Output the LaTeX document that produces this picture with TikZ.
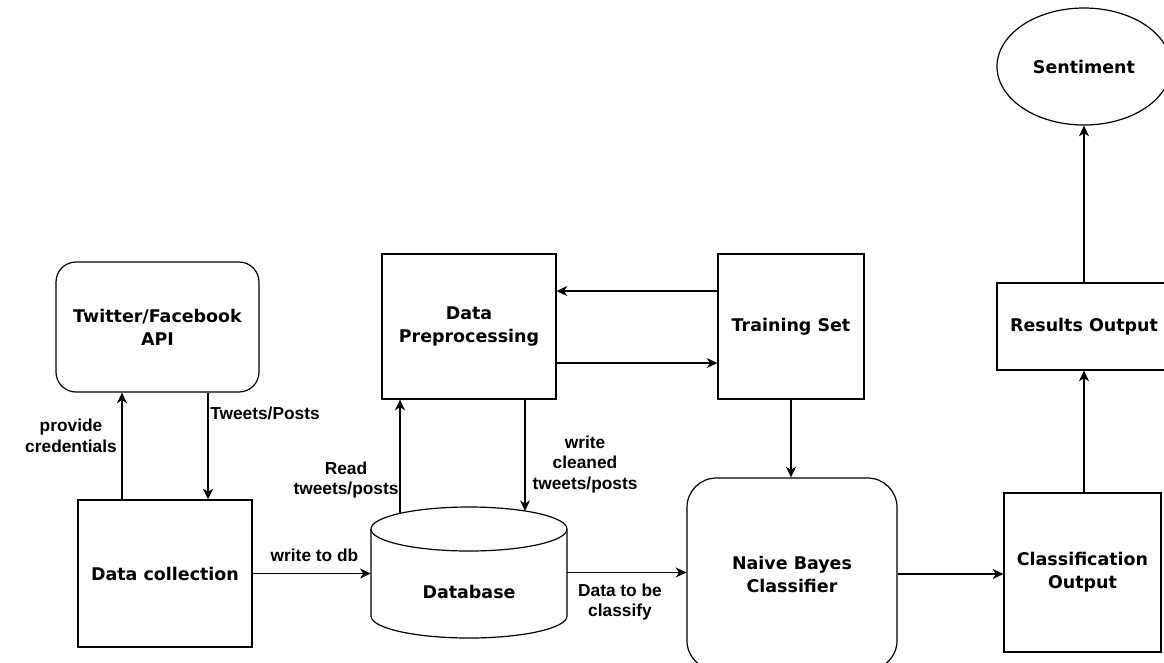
\documentclass[tikz,border=0pt]{standalone}
\usepackage{fontspec}
\setmainfont{DejaVu Sans}
\newfontfamily\lblfont{Liberation Sans}
\usetikzlibrary{arrows.meta,calc,shapes.geometric}
\begin{document}
\begin{tikzpicture}[x=0.75pt,y=-0.75pt,
  box/.style={draw, line width=0.9pt, inner sep=0pt, align=center, font=\fontsize{13.1pt}{17.25pt}\selectfont\bfseries},
  rbox/.style={box, rounded corners=15pt},
  lbl/.style={font=\lblfont\fontsize{13pt}{15.6pt}\selectfont\bfseries, inner sep=0pt},
  arr/.style={draw, line width=0.9pt, -{Stealth[length=8pt,width=7.5pt,inset=2.4pt]}}
]
\useasboundingbox (0,0) rectangle (1164,662);
\clip (0,0) rectangle (1164,662);

% nodes
\node[rbox, minimum width=152.25pt, minimum height=97.5pt] (api) at (157.5,327) {Twitter/Facebook\\API};
\node[box, minimum width=130.5pt, minimum height=110.25pt] (collect) at (165,573.5) {Data collection};
\node[box, minimum width=130.5pt, minimum height=108.75pt] (prep) at (469,326.5) {Data\\Preprocessing};
\node[box, minimum width=109.5pt, minimum height=108.75pt] (train) at (791,326.5) {Training Set};
\node[rbox, rounded corners=22pt, minimum width=157.5pt, minimum height=144pt] (nb) at (792,574) {Naive Bayes\\Classifier};
\node[box, minimum width=117.75pt, minimum height=119.25pt] (cls) at (1082.5,572.5) {Classification\\Output};
\node[box, minimum width=130.5pt, minimum height=65.25pt] (res) at (1084,326.5) {Results Output};
\node[box, ellipse, minimum width=130.5pt, minimum height=87.75pt] (sent) at (1084,66.5) {Sentiment};

% database cylinder
\node[minimum width=147pt, minimum height=98.25pt, inner sep=0pt] (db) at (469,572.5) {};
\draw[line width=0.9pt, fill=white] (371,529) -- (371,616) arc[start angle=180,end angle=360,x radius=73.5pt,y radius=16.5pt] -- (567,529);
\draw[line width=0.9pt] (469,529) ellipse [x radius=73.5pt, y radius=16.5pt];
\node[box, draw=none] (dbtext) at (469,592) {Database};
\coordinate (dbr) at (400,513.4);
\coordinate (dbw) at (525,511);

% connectors
\draw[arr] ([xshift=-32.25pt]collect.north) -- ([xshift=-32.25pt]collect.north |- api.south);
\draw[arr] ([xshift=37.9pt]api.south) -- ([xshift=37.9pt]api.south |- collect.north);
\draw[arr] (collect.east) -- (collect.east -| db.west);
\draw[arr] (dbr) -- (dbr |- prep.south);
\draw[arr] (dbw |- prep.south) -- (dbw);
\draw[arr] ([yshift=26.6pt]train.west) -- ([yshift=26.6pt]train.west -| prep.east);
\draw[arr] ([yshift=-27.4pt]prep.east) -- ([yshift=-27.4pt]prep.east -| train.west);
\draw[arr] (train.south) -- (train.south |- nb.north);
\draw[arr] (db.east) -- (db.east -| nb.west);
\draw[arr] (nb.east) -- (nb.east -| cls.west);
\draw[arr] (res.south |- cls.north) -- (res.south);
\draw[arr] (res.north) -- (sent.south);

% labels
\node[lbl, align=center] (lpc) at (71,435.5) {provide\\credentials};
\node[lbl, anchor=west] (ltp) at (210,413) {Tweets/Posts};
\node[lbl] (lwd) at (314.5,555) {write to db};
\node[lbl, align=center] (lread) at (346,480) {Read\\tweets/posts};
\node[lbl, align=center] (lwc) at (585,464.5) {write\\cleaned\\tweets/posts};
\node[lbl, align=center] (ldc) at (620,602) {Data to be\\classify};
\end{tikzpicture}
\end{document}
